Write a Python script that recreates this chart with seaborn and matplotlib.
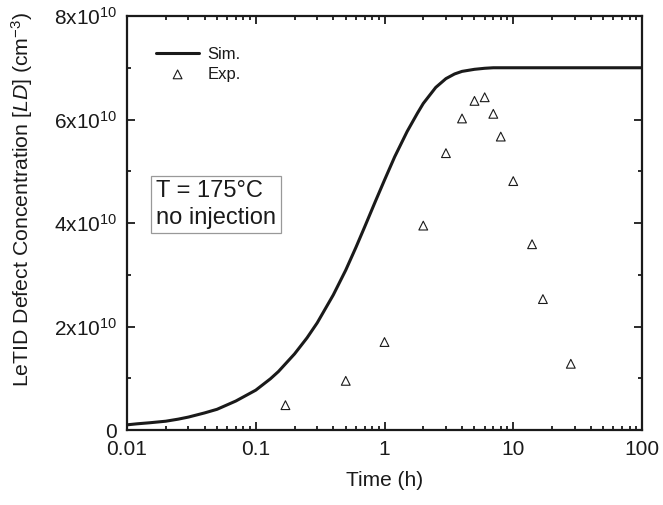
import seaborn as sns
import matplotlib.pyplot as plt
import matplotlib.ticker as mticker
import pandas as pd

# simulated curve, values in 1e10 cm^-3
sim_time = [0.01, 0.012, 0.015, 0.02, 0.025, 0.03, 0.04, 0.05, 0.07, 0.1, 0.13,
            0.15, 0.2, 0.25, 0.3, 0.4, 0.5, 0.6, 0.7, 0.85, 1.0, 1.2, 1.5, 1.8,
            2.0, 2.5, 3.0, 3.5, 4.0, 5.0, 6.0, 7.0, 10, 20, 50, 100]
sim_ld = [0.10, 0.12, 0.14, 0.17, 0.21, 0.25, 0.33, 0.40, 0.56, 0.77, 0.99,
          1.13, 1.47, 1.78, 2.07, 2.61, 3.09, 3.53, 3.92, 4.42, 4.83, 5.28, 5.77, 6.12,
          6.31, 6.62, 6.79, 6.88, 6.93, 6.97, 6.99, 7.0, 7.0, 7.0, 7.0, 7.0]

# experimental points
exp_time = [0.17, 0.5, 1.0, 2.0, 3.0, 4.0, 5.0, 6.0, 7.0, 8.0, 10, 14, 17, 28]
exp_ld = [0.48, 0.95, 1.70, 3.95, 5.35, 6.02, 6.36, 6.43, 6.11, 5.67, 4.81, 3.59, 2.53, 1.28]

sim = pd.DataFrame({"t": sim_time, "ld": [v * 1e10 for v in sim_ld]})
exp = pd.DataFrame({"t": exp_time, "ld": [v * 1e10 for v in exp_ld]})

sns.set_style("ticks")
plt.rcParams["font.family"] = ["Liberation Sans", "DejaVu Sans"]
plt.rcParams["mathtext.fontset"] = "custom"
plt.rcParams["mathtext.rm"] = "Liberation Sans"
plt.rcParams["mathtext.it"] = "Liberation Sans:italic"

fig = plt.figure(figsize=(6.63, 5.05), dpi=100)
ax = fig.add_axes([0.1916, 0.1485, 0.7767, 0.8198])

sns.lineplot(data=sim, x="t", y="ld", ax=ax, color="#1a1a1a", lw=2.2, label="Sim.")
sns.scatterplot(data=exp, x="t", y="ld", ax=ax, marker="^", s=40,
                facecolor="none", edgecolor="#1a1a1a", linewidth=0.8, label="Exp.")

ax.set_xscale("log")
ax.set_xlim(0.01, 100)
ax.set_ylim(0, 8e10)
ax.xaxis.set_major_locator(mticker.FixedLocator([0.01, 0.1, 1, 10, 100]))
ax.xaxis.set_major_formatter(mticker.FixedFormatter(["0.01", "0.1", "1", "10", "100"]))
ax.xaxis.set_minor_locator(mticker.LogLocator(base=10, subs=range(2, 10)))
ax.xaxis.set_minor_formatter(mticker.NullFormatter())
ax.yaxis.set_major_locator(mticker.FixedLocator([0, 2e10, 4e10, 6e10, 8e10]))
ax.yaxis.set_major_formatter(mticker.FixedFormatter(
    ["0", r"2x10$^{10}$", r"4x10$^{10}$", r"6x10$^{10}$", r"8x10$^{10}$"]))
ax.yaxis.set_minor_locator(mticker.MultipleLocator(1e10))

ax.tick_params(which="both", direction="in", top=True, right=True, width=1.3,
               labelsize=15, colors="#1a1a1a")
ax.tick_params(which="major", length=6)
ax.tick_params(which="minor", length=3)
ax.tick_params(axis="x", which="major", pad=7.5)
ax.tick_params(axis="y", which="major", pad=7)
for s in ax.spines.values():
    s.set_linewidth(1.6)
    s.set_color("#1a1a1a")

ax.set_xlabel("Time (h)", fontsize=15, color="#1a1a1a", labelpad=8)
ax.set_ylabel(r"LeTID Defect Concentration [$\mathit{LD}$] (cm$^{-3}$)",
              fontsize=15.3, color="#1a1a1a")
ax.yaxis.set_label_coords(-0.178, 0.558)

leg = ax.legend(loc="upper left", frameon=False, fontsize=12, handlelength=2.6,
                handletextpad=0.5, labelspacing=0.3, bbox_to_anchor=(0.027, 0.962))
for t in leg.get_texts():
    t.set_color("#1a1a1a")

ax.text(0.056, 0.545, "T = 175°C\nno injection", transform=ax.transAxes,
        fontsize=17, color="#1a1a1a", va="center", ha="left", linespacing=1.25,
        bbox=dict(boxstyle="square,pad=0.2", fc="white", ec="#999999", lw=0.9))

fig.savefig("out.png", dpi=100)
